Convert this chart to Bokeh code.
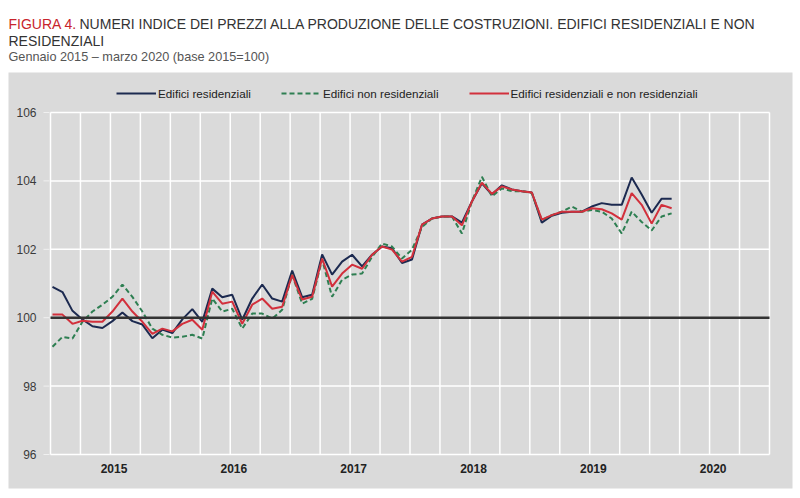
from bokeh.plotting import figure
from bokeh.models import (Legend, LegendItem, Range1d, ColumnDataSource, Label, BoxAnnotation)
from bokeh.embed import file_html
from bokeh.resources import INLINE

# ---------------- data (Gennaio 2015 - marzo 2020, base 2015=100) ----------------
years = [2015, 2016, 2017, 2018, 2019, 2020]
year_labels = ["2015", "2016", "2017", "2018", "2019", "2020"]

residenziali = [
    100.90, 100.75, 100.20, 99.95, 99.75, 99.70, 99.90, 100.15, 99.90, 99.80, 99.40, 99.65,
    99.55, 99.95, 100.25, 99.88, 100.85, 100.60, 100.67, 99.94, 100.56, 100.97, 100.56, 100.47,
    101.38, 100.60, 100.67, 101.85, 101.26, 101.64, 101.84, 101.50, 101.84, 102.08, 102.03, 101.60,
    101.70, 102.72, 102.90, 102.96, 102.96, 102.78, 103.40, 103.93, 103.60, 103.87, 103.75, 103.70,
    103.66, 102.78, 102.98, 103.07, 103.10, 103.10, 103.25, 103.35, 103.30, 103.30, 104.10, 103.60,
    103.07, 103.48, 103.48,
]
non_residenziali = [
    99.15, 99.44, 99.39, 99.88, 100.18, 100.38, 100.61, 100.97, 100.61, 100.18, 99.68, 99.50,
    99.42, 99.44, 99.50, 99.39, 100.56, 100.18, 100.26, 99.68, 100.12, 100.12, 99.97, 100.23,
    101.26, 100.41, 100.55, 101.70, 100.61, 101.11, 101.26, 101.29, 101.78, 102.17, 102.08, 101.73,
    101.99, 102.65, 102.90, 102.96, 102.96, 102.46, 103.40, 104.12, 103.55, 103.78, 103.70, 103.70,
    103.64, 102.85, 103.00, 103.10, 103.25, 103.10, 103.15, 103.10, 102.90, 102.46, 103.10, 102.80,
    102.55, 102.96, 103.05,
]
totale = [
    100.09, 100.09, 99.82, 99.91, 99.88, 99.88, 100.18, 100.56, 100.18, 99.88, 99.53, 99.68,
    99.60, 99.82, 99.94, 99.65, 100.76, 100.41, 100.47, 99.82, 100.38, 100.56, 100.26, 100.32,
    101.25, 100.53, 100.61, 101.73, 100.91, 101.29, 101.55, 101.43, 101.84, 102.08, 101.99, 101.64,
    101.78, 102.72, 102.90, 102.96, 102.96, 102.70, 103.40, 103.95, 103.62, 103.84, 103.75, 103.70,
    103.66, 102.87, 103.00, 103.10, 103.10, 103.10, 103.20, 103.17, 103.05, 102.87, 103.64, 103.30,
    102.75, 103.30, 103.20,
]
y_ticks = [96, 98, 100, 102, 104, 106]
y_labels = ["96", "98", "100", "102", "104", "106"]
baseline_value = 100

title_red = "FIGURA 4."
title_line1 = "NUMERI INDICE DEI PREZZI ALLA PRODUZIONE DELLE COSTRUZIONI. EDIFICI RESIDENZIALI E NON"
title_line2 = "RESIDENZIALI"
subtitle = "Gennaio 2015 – marzo 2020 (base 2015=100)"
series_names = ["Edifici residenziali", "Edifici non residenziali",
                "Edifici residenziali e non residenziali"]

# ---------------- layout constants (pixels) ----------------
W, H = 800, 498
PLOT_L, PLOT_R, PLOT_T, PLOT_B = 50, 769, 112, 454      # data area inside the grey panel
x0, x1 = years[0], years[-1] + 1
y0, y1 = y_ticks[0], y_ticks[-1]
px_x = (PLOT_R - PLOT_L) / (x1 - x0)
px_y = (PLOT_B - PLOT_T) / (y1 - y0)

FONT = "Liberation Sans"
BG = "#dadada"

p = figure(width=W, height=H, output_backend="svg", toolbar_location=None,
           x_axis_location=None, y_axis_location=None,
           x_range=Range1d(x0 - PLOT_L / px_x, x1 + (W - PLOT_R) / px_x),
           y_range=Range1d(y0 - (H - PLOT_B) / px_y, y1 + PLOT_T / px_y),
           background_fill_color="white", border_fill_color="white",
           min_border=0)
p.outline_line_color = None
p.grid.visible = False

# grey panel
p.add_layout(BoxAnnotation(left=8, right=792, top=72, bottom=488,
                           left_units="canvas", right_units="canvas",
                           top_units="canvas", bottom_units="canvas",
                           fill_color=BG, fill_alpha=1.0, line_color=None, level="underlay"))

# grid lines (quarterly verticals, every 2 points horizontally)
quarters = [x0 + q / 4 for q in range(0, 4 * (x1 - x0) + 1)]
p.segment(x0=quarters, x1=quarters, y0=[y0] * len(quarters), y1=[y1] * len(quarters),
          line_color="white", line_width=1.5)
p.segment(x0=[x0] * len(y_ticks), x1=[x1] * len(y_ticks), y0=y_ticks, y1=y_ticks,
          line_color="white", line_width=1.5)
# y tick marks
p.segment(x0=[x0 - 7 / px_x] * len(y_ticks), x1=[x0 - 1 / px_x] * len(y_ticks),
          y0=y_ticks, y1=y_ticks, line_color="#f0f0f0", line_width=1)

# series
month_index = list(range(len(residenziali)))
xpos = [x0 + (m + 0.2) / 12 for m in month_index]
src = ColumnDataSource(dict(x=xpos, res=residenziali, nonres=non_residenziali, tot=totale))

r_res = p.line("x", "res", source=src, line_color="#1c2a50", line_width=2)
r_non = p.line("x", "nonres", source=src, line_color="#2e7f52", line_width=2, line_dash="5 3")
r_tot = p.line("x", "tot", source=src, line_color="#d2303c", line_width=2)

# base line at 100
p.segment(x0=[x0], x1=[x1], y0=[baseline_value], y1=[baseline_value],
          line_color="#333333", line_width=2.5)

# axis labels
p.text(x=[x0 - 14 / px_x] * len(y_ticks), y=y_ticks, text=y_labels,
       text_align="right", text_baseline="middle", text_font_size="12px",
       text_color="#3a3a3a", text_font={"value": FONT})
mid = [y + 0.53 for y in years]
p.text(x=mid, y=[y0 - 14 / px_y] * len(mid), text=year_labels,
       text_align="center", text_baseline="middle", text_font_size="12px",
       text_font_style="bold", text_color="#222222", text_font={"value": FONT})

# legend
legend = Legend(items=[
    LegendItem(label=series_names[0], renderers=[r_res]),
    LegendItem(label=series_names[1], renderers=[r_non]),
    LegendItem(label=series_names[2], renderers=[r_tot]),
], orientation="horizontal", location=(116, H - 103))
legend.background_fill_alpha = 0
legend.border_line_color = None
legend.label_text_font = FONT
legend.label_text_font_size = "11.7px"
legend.label_text_color = "#222222"
legend.glyph_width = 40
legend.glyph_height = 14
legend.label_height = 20
legend.label_standoff = 2
legend.spacing = 30
legend.padding = 0
legend.margin = 0
p.add_layout(legend)

# title texts
common = dict(x_units="canvas", y_units="canvas", text_font=FONT,
              text_baseline="alphabetic", text_align="left")
p.add_layout(Label(x=8, y=23, text=title_red, text_color="#c8242c", text_font_size="14px", **common))
p.add_layout(Label(x=79, y=23, text=title_line1, text_color="#333333", text_font_size="14px", **common))
p.add_layout(Label(x=8, y=40, text=title_line2, text_color="#333333", text_font_size="14px", **common))
p.add_layout(Label(x=8, y=56, text=subtitle, text_color="#555555", text_font_size="12.7px", **common))

open("out.html", "w").write(file_html(p, INLINE))
